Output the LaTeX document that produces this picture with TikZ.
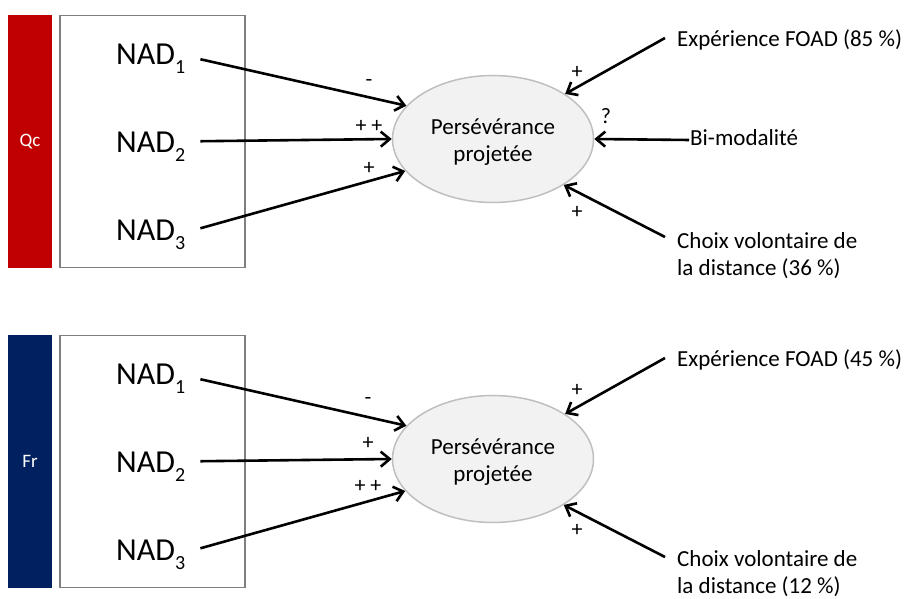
\documentclass[tikz,border=0pt]{standalone}
\usepackage{fontspec}
\setmainfont{Carlito}
\usetikzlibrary{arrows.meta,shapes.geometric}
\definecolor{qcred}{HTML}{C00000}
\definecolor{frblue}{HTML}{002060}
\definecolor{boxgray}{HTML}{7F7F7F}
\definecolor{ovalfill}{HTML}{F2F2F2}
\definecolor{ovaldraw}{HTML}{BFBFBF}
\newcommand{\nadsub}[1]{NAD\raisebox{-9pt}{\fontsize{20}{20}\selectfont #1}}
\newcommand{\twolines}[2]{\begin{tabular}[t]{@{}l@{}}#1\\#2\end{tabular}}
\newcommand{\twocenter}[2]{\begin{tabular}[t]{@{}c@{}}#1\\#2\end{tabular}}
\begin{document}
\begin{tikzpicture}[x=1pt,y=1pt,
  bar/.style={minimum width=44pt,minimum height=253pt,inner sep=0,text=white,font=\fontsize{19}{19}\selectfont},
  framebox/.style={draw=boxgray,line width=1.6pt,minimum width=185pt,minimum height=252pt,inner sep=0},
  nadtext/.style={anchor=base west,inner sep=0,font=\fontsize{32}{32}\selectfont},
  oval/.style={ellipse,draw=ovaldraw,fill=ovalfill,line width=1.5pt,minimum width=201pt,minimum height=127pt,inner sep=0},
  ovaltext/.style={anchor=base,inner sep=0,font=\fontsize{23}{27}\selectfont},
  sidetext/.style={anchor=base west,inner sep=0,font=\fontsize{23}{27}\selectfont},
  lbl/.style={inner sep=0,text height=14pt,text depth=0pt,font=\fontsize{22}{22}\selectfont},
  link/.style={line width=2.6pt,-{Straight Barb[length=9pt,width=15pt]}}
]
\useasboundingbox (0,0) rectangle (907,599);

% ---------- top panel (Qc) ----------
\node[bar,fill=qcred] (barQ) at (30,457.5) {Qc};
\node[framebox] (boxQ) at (152.75,457.5) {};
\node[nadtext] (qn1) at (116,534) {\nadsub{1}};
\node[nadtext] (qn2) at (116,446) {\nadsub{2}};
\node[nadtext] (qn3) at (116,358) {\nadsub{3}};
\node[oval] (qp) at (493,460) {};
\node[ovaltext] (qpt) at (493,464) {\twocenter{Persévérance}{projetée}};
\node[sidetext] (qe) at (677,552) {Expérience FOAD (85~\%)};
\node[sidetext] (qb) at (690,453) {Bi-modalité};
\node[sidetext] (qc) at (677,350) {\twolines{Choix volontaire de}{la distance (36~\%)}};

\draw[link] ([xshift=15pt,yshift=0pt]qn1.east) -- (qp.159);
\draw[link] ([xshift=15pt,yshift=6pt]qn2.east) -- (qp.west);
\draw[link] ([xshift=15pt,yshift=7pt]qn3.east) -- (qp.200);
\draw[link] ([xshift=-12pt,yshift=9pt]qe.base west) -- (qp.32);
\draw[link] ([xshift=-1pt,yshift=6pt]qb.base west) -- (qp.east);
\draw[link] ([xshift=-12pt,yshift=12pt]qc.base west) -- (qp.327);

\node[lbl] (ql1) at (369,519) {-};
\node[lbl] (ql2) at (369,473) {+ +};
\node[lbl] (ql3) at (369,431) {+};
\node[lbl] (ql4) at (577,527) {+};
\node[lbl] (ql5) at (606,482) {?};
\node[lbl] (ql6) at (577,387) {+};

% ---------- bottom panel (Fr) ----------
\node[bar,fill=frblue] (barF) at (30,137.5) {Fr};
\node[framebox] (boxF) at (152.75,137.5) {};
\node[nadtext] (fn1) at (116,214) {\nadsub{1}};
\node[nadtext] (fn2) at (116,126) {\nadsub{2}};
\node[nadtext] (fn3) at (116,38) {\nadsub{3}};
\node[oval] (fp) at (493,140) {};
\node[ovaltext] (fpt) at (493,144) {\twocenter{Persévérance}{projetée}};
\node[sidetext] (fe) at (677,232) {Expérience FOAD (45~\%)};
\node[sidetext] (fc) at (677,32) {\twolines{Choix volontaire de}{la distance (12~\%)}};

\draw[link] ([xshift=15pt,yshift=0pt]fn1.east) -- (fp.159);
\draw[link] ([xshift=15pt,yshift=6pt]fn2.east) -- (fp.west);
\draw[link] ([xshift=15pt,yshift=7pt]fn3.east) -- (fp.200);
\draw[link] ([xshift=-12pt,yshift=9pt]fe.base west) -- (fp.32);
\draw[link] ([xshift=-12pt,yshift=10pt]fc.base west) -- (fp.327);

\node[lbl] (fl1) at (368,201) {-};
\node[lbl] (fl2) at (368,156) {+};
\node[lbl] (fl3) at (368,113) {+ +};
\node[lbl] (fl4) at (577,209) {+};
\node[lbl] (fl6) at (577,69) {+};
\end{tikzpicture}
\end{document}
